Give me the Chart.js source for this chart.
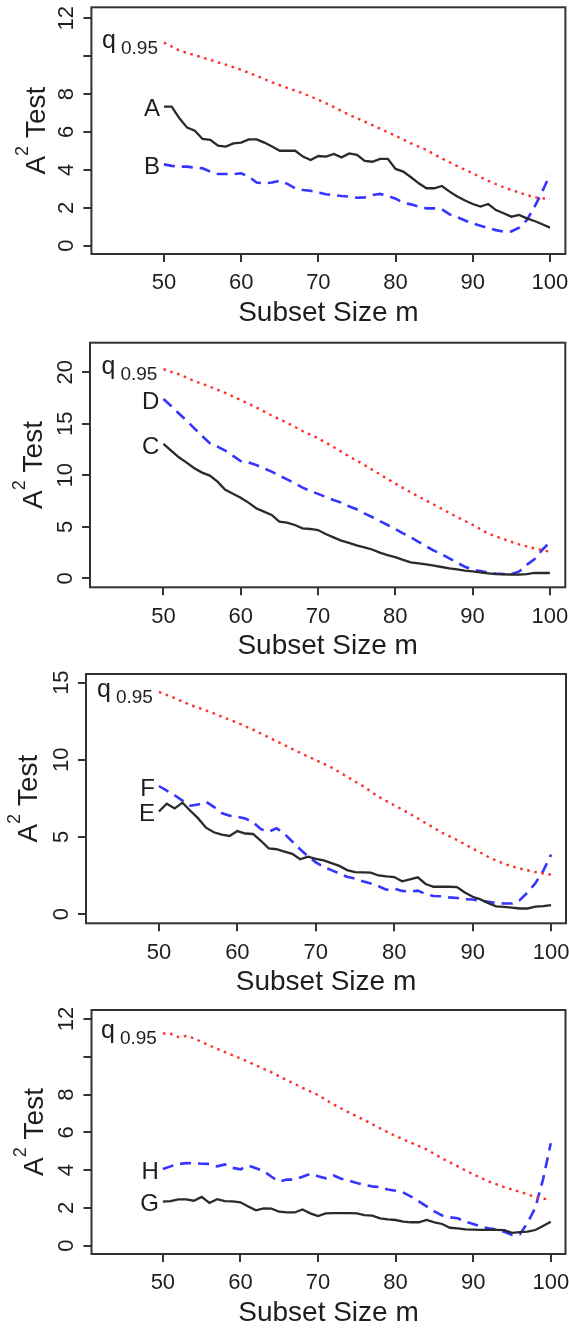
<!DOCTYPE html>
<html>
<head>
<meta charset="utf-8">
<script src="https://cdn.jsdelivr.net/npm/chart.js@4.4.1/dist/chart.umd.min.js"></script>
<style>
  html, body { margin: 0; padding: 0; background: #fff; overflow: hidden; }
  body { width: 569px; height: 1328px; position: relative; }
  canvas { position: absolute; left: 0; }
</style>
</head>
<body>
<canvas id="p1"></canvas>
<canvas id="p2"></canvas>
<canvas id="p3"></canvas>
<canvas id="p4"></canvas>
<script>
// subset sizes m
const mSteps = [50,51,52,53,54,55,56,57,58,59,60,61,62,63,64,65,66,67,68,69,70,71,72,73,74,75,
                76,77,78,79,80,81,82,83,84,85,86,87,88,89,90,91,92,93,94,95,96,97,98,99,100];
const qSteps = [50,52,54,56,58,60,62,64,66,68,70,72,74,76,78,80,82,84,86,88,90,92,94,96,98,100];
const qSteps4 = [50,51,52,53,54,56,58,60,62,64,66,68,70,72,74,76,78,80,82,84,86,88,90,92,94,96,98,100];

const xTicks = [50, 60, 70, 80, 90, 100];
const yTicks1 = [0, 2, 4, 6, 8, 10, 12];
const yTicks2 = [0, 5, 10, 15, 20];
const yTicks3 = [0, 5, 10, 15];
const yTicks4 = [0, 2, 4, 6, 8, 10, 12];

// panel 1
const q1 = [10.72,10.3,10.05,9.8,9.55,9.28,8.96,8.62,8.32,8.04,7.7,7.32,6.9,6.55,6.17,5.8,5.4,5.05,4.6,4.2,3.82,3.42,3.08,2.8,2.55,2.45];
const seriesA = [7.34,7.34,6.72,6.23,6.07,5.63,5.58,5.28,5.23,5.4,5.44,5.61,5.61,5.44,5.23,5.01,5.01,5.01,4.7,4.52,
                 4.73,4.7,4.84,4.66,4.87,4.79,4.47,4.43,4.58,4.58,4.05,3.91,3.61,3.29,3.03,3.03,3.15,2.85,2.59,2.38,
                 2.2,2.06,2.2,1.88,1.71,1.53,1.62,1.44,1.3,1.13,0.95];
const seriesB = [4.29,4.21,4.17,4.17,4.12,4.08,3.91,3.78,3.78,3.78,3.82,3.64,3.33,3.29,3.33,3.43,3.26,3.03,2.94,2.9,
                 2.8,2.71,2.67,2.62,2.59,2.53,2.55,2.67,2.73,2.62,2.48,2.27,2.18,2.06,1.97,1.97,1.92,1.65,1.5,1.33,
                 1.17,1.05,0.93,0.82,0.74,0.75,0.95,1.35,2.05,2.85,3.75];

// panel 2
const q2 = [20.3,19.8,19.15,18.6,18.0,17.3,16.6,15.8,15.1,14.3,13.6,12.75,11.85,11.0,10.1,9.2,8.35,7.55,6.75,5.95,5.2,4.35,3.8,3.3,2.9,2.58];
const seriesC = [13.04,12.39,11.75,11.23,10.68,10.26,9.97,9.39,8.6,8.2,7.83,7.35,6.8,6.47,6.15,5.5,5.4,5.18,4.85,4.79,
                 4.69,4.3,3.98,3.66,3.45,3.2,3.0,2.8,2.5,2.25,2.05,1.8,1.55,1.46,1.36,1.23,1.1,0.97,0.87,0.74,
                 0.68,0.57,0.49,0.41,0.38,0.37,0.36,0.4,0.52,0.52,0.52];
const seriesD = [17.41,16.73,16.0,15.31,14.56,13.82,13.11,12.78,12.39,11.88,11.39,11.26,11.0,10.68,10.36,9.97,9.61,9.22,8.8,8.48,
                 8.2,7.9,7.6,7.35,7.0,6.7,6.3,5.95,5.55,5.18,4.79,4.37,3.98,3.55,3.1,2.69,2.33,1.94,1.52,1.13,
                 0.85,0.7,0.55,0.47,0.42,0.42,0.65,1.3,1.85,2.75,3.5];

// panel 3
const q3 = [14.4,14.0,13.55,13.2,12.8,12.4,11.95,11.45,10.95,10.45,9.98,9.5,8.9,8.3,7.6,7.05,6.5,5.9,5.3,4.8,4.25,3.7,3.25,2.95,2.72,2.55];
const seriesE = [6.65,7.15,6.85,7.22,6.7,6.2,5.6,5.3,5.15,5.06,5.38,5.22,5.19,4.75,4.26,4.2,4.05,3.9,3.55,3.72,
                 3.58,3.48,3.3,3.12,2.85,2.72,2.7,2.68,2.5,2.44,2.4,2.12,2.25,2.38,1.95,1.77,1.77,1.77,1.75,1.4,
                 1.12,0.95,0.7,0.5,0.46,0.42,0.36,0.36,0.48,0.52,0.58];
const seriesF = [8.3,8.0,7.7,7.35,7.02,7.1,7.28,6.95,6.55,6.38,6.3,6.2,5.95,5.5,5.34,5.56,5.2,4.7,4.2,3.75,
                 3.35,3.05,2.85,2.62,2.42,2.3,2.12,1.98,1.8,1.58,1.64,1.5,1.45,1.52,1.3,1.17,1.15,1.08,1.04,0.96,
                 0.94,0.86,0.8,0.72,0.68,0.68,0.9,1.4,2.0,2.8,3.85];

// panel 4
const q4 = [11.24,11.22,11.05,11.1,10.98,10.6,10.25,9.92,9.55,9.18,8.76,8.36,7.98,7.48,7.05,6.65,6.21,5.81,5.45,5.1,4.62,4.2,3.78,3.4,3.1,2.86,2.58,2.42];
const seriesG = [2.33,2.36,2.45,2.45,2.38,2.58,2.26,2.46,2.36,2.35,2.3,2.08,1.87,1.98,1.96,1.8,1.76,1.76,1.92,1.71,
                 1.57,1.71,1.72,1.72,1.72,1.71,1.62,1.59,1.45,1.39,1.36,1.27,1.24,1.24,1.36,1.24,1.15,0.95,0.92,0.86,
                 0.85,0.84,0.84,0.84,0.82,0.68,0.72,0.74,0.83,1.04,1.27];
const seriesH = [4.06,4.2,4.32,4.37,4.36,4.34,4.33,4.2,4.3,4.12,4.04,4.24,4.1,3.95,3.65,3.39,3.5,3.5,3.65,3.8,
                 3.68,3.57,3.72,3.55,3.44,3.32,3.21,3.14,3.1,2.98,2.91,2.81,2.6,2.35,2.08,1.82,1.6,1.5,1.45,1.27,
                 1.15,1.01,0.92,0.86,0.74,0.57,0.6,1.2,2.0,3.5,5.42];

const FONT = "'Liberation Sans', Arial, Helvetica, sans-serif";
const INK = '#1e1e1e';
Chart.defaults.font.family = FONT;

function zip(xs, ys) {
  return xs.map((m, i) => ({ x: m, y: ys[i] }));
}

const panels = [
  { id: 'p1', top: 7.3, bottom: 254, left: 91.4, right: 565.4, xMin: 40.6, xMax: 102, yMin: -0.44, yMax: 12.58,
    yTicks: yTicks1, hide: [10], qx: qSteps, q: q1, solid: seriesA, dashed: seriesB,
    names: ['A', 'B'], titleX: 35 },
  { id: 'p2', top: 342.7, bottom: 587.3, left: 90, right: 565.3, xMin: 40.5, xMax: 102, yMin: -0.87, yMax: 22.87,
    yTicks: yTicks2, hide: [], qx: qSteps, q: q2, solid: seriesC, dashed: seriesD,
    names: ['C', 'D'], titleX: 32 },
  { id: 'p3', top: 674, bottom: 923.3, left: 86, right: 566, xMin: 40.7, xMax: 101.9, yMin: -0.6, yMax: 15.56,
    yTicks: yTicks3, hide: [], qx: qSteps, q: q3, solid: seriesE, dashed: seriesF,
    names: ['E', 'F'], titleX: 27 },
  { id: 'p4', top: 1010, bottom: 1254, left: 91.5, right: 565.5, xMin: 40.8, xMax: 101.9, yMin: -0.44, yMax: 12.48,
    yTicks: yTicks4, hide: [10], qx: qSteps4, q: q4, solid: seriesG, dashed: seriesH,
    names: ['G', 'H'], titleX: 33 }
];

// box, y title and the curve labels
const decor = {
  id: 'decor',
  afterDraw(chart, args, opts) {
    const { ctx, chartArea: a, scales: { x, y } } = chart;
    ctx.save();
    ctx.strokeStyle = '#333';
    ctx.lineWidth = 2;
    ctx.strokeRect(a.left, a.top, a.right - a.left, a.bottom - a.top);

    ctx.fillStyle = INK;
    // A^2 Test
    ctx.save();
    ctx.translate(opts.titleX, (a.top + a.bottom) / 2);
    ctx.rotate(-Math.PI / 2);
    ctx.textBaseline = 'alphabetic';
    ctx.textAlign = 'left';
    ctx.font = `28px ${FONT}`;
    const wA = ctx.measureText('A').width;
    const wT = ctx.measureText(' Test').width;
    ctx.font = `18px ${FONT}`;
    const w2 = ctx.measureText('2').width;
    let sx = -(wA + w2 + wT) / 2;
    ctx.font = `28px ${FONT}`;
    ctx.fillText('A', sx, 10);
    ctx.font = `18px ${FONT}`;
    ctx.fillText('2', sx + wA, -7);
    ctx.font = `28px ${FONT}`;
    ctx.fillText(' Test', sx + wA + w2, 10);
    ctx.restore();

    // series labels
    const x50 = x.getPixelForValue(50);
    ctx.font = `24px ${FONT}`;
    ctx.textAlign = 'right';
    ctx.textBaseline = 'middle';
    opts.labels.forEach(l => ctx.fillText(l.text, x50 - 4, y.getPixelForValue(l.value) + 3));

    // q 0.95
    const qy = y.getPixelForValue(opts.qStart);
    ctx.textBaseline = 'alphabetic';
    ctx.font = `19px ${FONT}`;
    const w95 = ctx.measureText('0.95').width;
    ctx.fillText('0.95', x50 - 6, qy + 11);
    ctx.font = `25px ${FONT}`;
    ctx.fillText('q', x50 - 6 - w95 - 5, qy + 5);
    ctx.restore();
  }
};

panels.forEach(p => {
  const cv = document.getElementById(p.id);
  const top = Math.floor(p.top - 8);
  const padTop = p.top - top;
  const h = Math.ceil(padTop + (p.bottom - p.top) + 78);
  const xAxisH = h - padTop - (p.bottom - p.top);
  cv.width = 569;
  cv.height = h;
  cv.style.top = top + 'px';
  cv.style.width = '569px';
  cv.style.height = h + 'px';

  const tickGrid = { drawOnChartArea: false, drawTicks: true, tickLength: 8, color: '#333', lineWidth: 2 };

  new Chart(cv, {
    type: 'line',
    data: {
      datasets: [
        { label: 'q0.95', data: zip(p.qx, p.q), borderColor: '#ff3030', borderWidth: 2.4,
          borderDash: [2.6, 4.6], pointRadius: 0, tension: 0, fill: false },
        { label: p.names[0], data: zip(mSteps, p.solid), borderColor: '#2a2a2a', borderWidth: 2.3,
          pointRadius: 0, tension: 0, fill: false },
        { label: p.names[1], data: zip(mSteps, p.dashed), borderColor: '#3535ff', borderWidth: 2.6,
          borderDash: [11, 7], pointRadius: 0, tension: 0, fill: false }
      ]
    },
    options: {
      responsive: false,
      animation: false,
      devicePixelRatio: 1,
      layout: { padding: { left: 0, right: 569 - p.right, top: padTop, bottom: 0 } },
      plugins: {
        legend: { display: false },
        tooltip: { enabled: false },
        decor: {
          titleX: p.titleX,
          qStart: p.q[0],
          labels: [
            { text: p.names[0], value: p.solid[0] },
            { text: p.names[1], value: p.dashed[0] }
          ]
        }
      },
      scales: {
        x: {
          type: 'linear',
          min: p.xMin,
          max: p.xMax,
          afterBuildTicks: s => { s.ticks = xTicks.map(v => ({ value: v })); },
          afterFit: s => { s.height = xAxisH; s.paddingLeft = 0; s.paddingRight = 0; },
          grid: tickGrid,
          border: { display: false },
          ticks: { font: { size: 22 }, color: INK, padding: 8, maxRotation: 0, autoSkip: false,
                   callback: v => String(v) },
          title: { display: true, text: 'Subset Size m', font: { size: 28 }, color: INK,
                   padding: { top: 0, bottom: xAxisH - 75.8 } }
        },
        y: {
          type: 'linear',
          min: p.yMin,
          max: p.yMax,
          afterBuildTicks: s => { s.ticks = p.yTicks.map(v => ({ value: v })); },
          afterFit: s => { s.width = p.left; s.paddingTop = 0; s.paddingBottom = 0; },
          grid: tickGrid,
          border: { display: false },
          ticks: { font: { size: 22 }, color: INK, padding: 4, minRotation: 90, maxRotation: 90,
                   crossAlign: 'center', autoSkip: false,
                   callback: v => (p.hide.includes(v) ? '' : String(v)) }
        }
      }
    },
    plugins: [decor]
  });
});
</script>
</body>
</html>
